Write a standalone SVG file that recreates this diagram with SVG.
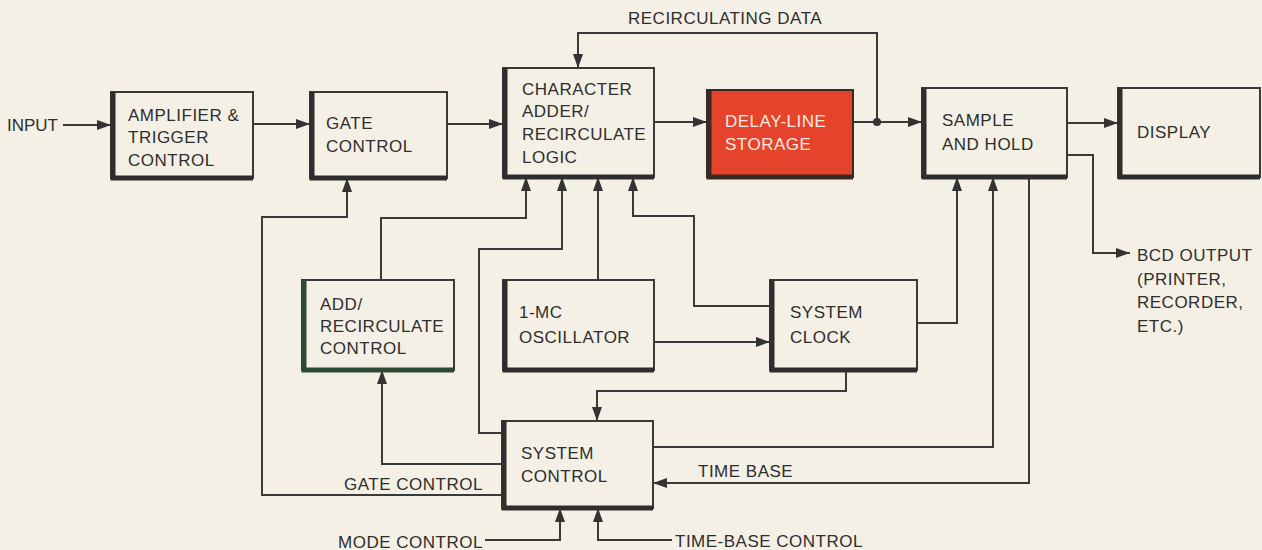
<svg xmlns="http://www.w3.org/2000/svg" width="1262" height="550" viewBox="0 0 1262 550">
<defs>
<marker id="a" markerUnits="userSpaceOnUse" markerWidth="14" markerHeight="10" refX="14" refY="5" orient="auto">
<path d="M0,0 L14,5 L0,10 z" fill="#333"/>
</marker>
<style>
.bx{fill:none;stroke:#3a3a3a;stroke-width:2}
.sh{fill:none;stroke:#2e2e2e;stroke-width:5}
.c{fill:none;stroke:#3a3a3a;stroke-width:2}
.ca{fill:none;stroke:#3a3a3a;stroke-width:2;marker-end:url(#a)}
text{font-family:"Liberation Sans",Arial,sans-serif;font-size:17px;fill:#2e2e2e;letter-spacing:0.5px}
.w{fill:#f8ece0}
</style>
</defs>
<rect width="1262" height="550" fill="#f4f0e5"/>

<g id="connectors">
<path class="ca" d="M63,125 H111"/>
<path class="ca" d="M253,124 H310"/>
<path class="ca" d="M447,124 H503"/>
<path class="ca" d="M654,122 H707"/>
<path class="ca" d="M853,122 H922"/>
<path class="ca" d="M877,122 V33 H578 V68"/>
<circle cx="877" cy="122" r="4" fill="#333"/>
<path class="ca" d="M1067,123 H1118"/>
<path class="ca" d="M1067,155 H1093 V253 H1130"/>
<path class="ca" d="M917,323 H957 V177"/>
<path class="ca" d="M653,447 H993 V177"/>
<path class="ca" d="M1029,177 V483 H653"/>
<path class="ca" d="M846,370 V391 H597 V421"/>
<path class="ca" d="M654,342 H770"/>
<path class="ca" d="M598,280 V177"/>
<path class="ca" d="M770,306 H694 V216 H633 V177"/>
<path class="ca" d="M381,280 V218 H526 V177"/>
<path class="ca" d="M502,495 H262 V217 H347 V178"/>
<path class="ca" d="M502,433 H479 V249 H562 V177"/>
<path class="ca" d="M502,464 H382 V370"/>
<path class="ca" d="M485,540 H560 V508"/>
<path class="ca" d="M672,540 H598 V508"/>
</g>

<g id="labels">
<text x="7" y="131" style="letter-spacing:0">INPUT</text>
<text x="628" y="24">RECIRCULATING DATA</text>
<text x="1137" y="261">BCD OUTPUT</text>
<text x="1137" y="285">(PRINTER,</text>
<text x="1137" y="308">RECORDER,</text>
<text x="1137" y="332">ETC.)</text>
<text x="698" y="477">TIME BASE</text>
<text x="344" y="490">GATE CONTROL</text>
<text x="338" y="548">MODE CONTROL</text>
<text x="675" y="547">TIME-BASE CONTROL</text>
</g>

<g id="amp">
<rect class="bx" x="111" y="92" width="142" height="86"/>
<path class="sh" d="M113,92 V178 H253"/>
<text x="128" y="121">AMPLIFIER &amp;</text>
<text x="128" y="143">TRIGGER</text>
<text x="128" y="166">CONTROL</text>
</g>

<g id="gate">
<rect class="bx" x="310" y="92" width="137" height="86"/>
<path class="sh" d="M312,92 V178 H447"/>
<text x="326" y="129">GATE</text>
<text x="326" y="152">CONTROL</text>
</g>

<g id="char">
<rect class="bx" x="503" y="68" width="151" height="109"/>
<path class="sh" d="M505,68 V177 H654"/>
<text x="522" y="95">CHARACTER</text>
<text x="522" y="117">ADDER/</text>
<text x="522" y="140">RECIRCULATE</text>
<text x="522" y="163">LOGIC</text>
</g>

<g id="delay">
<rect x="707" y="90" width="146" height="87" fill="#e5432b" stroke="#3a2a24" stroke-width="2"/>
<path d="M709,90 V177 H853" fill="none" stroke="#3a2a24" stroke-width="5"/>
<text class="w" x="725" y="127">DELAY-LINE</text>
<text class="w" x="725" y="150">STORAGE</text>
</g>

<g id="sample">
<rect class="bx" x="922" y="88" width="145" height="89"/>
<path class="sh" d="M924,88 V177 H1067"/>
<text x="942" y="126">SAMPLE</text>
<text x="942" y="150">AND HOLD</text>
</g>

<g id="display">
<rect class="bx" x="1118" y="88" width="142" height="89"/>
<path class="sh" d="M1120,88 V177 H1260"/>
<text x="1137" y="138">DISPLAY</text>
</g>

<g id="addrec">
<rect class="bx" x="302" y="280" width="152" height="90"/>
<path class="sh" d="M304,280 V370 H454" style="stroke:#2f4a33"/>
<text x="320" y="310">ADD/</text>
<text x="320" y="332">RECIRCULATE</text>
<text x="320" y="354">CONTROL</text>
</g>

<g id="osc">
<rect class="bx" x="503" y="280" width="151" height="90"/>
<path class="sh" d="M505,280 V370 H654"/>
<text x="519" y="318">1-MC</text>
<text x="519" y="343">OSCILLATOR</text>
</g>

<g id="clock">
<rect class="bx" x="770" y="280" width="147" height="90"/>
<path class="sh" d="M772,280 V370 H917"/>
<text x="790" y="318">SYSTEM</text>
<text x="790" y="343">CLOCK</text>
</g>

<g id="sysctl">
<rect class="bx" x="502" y="421" width="151" height="87"/>
<path class="sh" d="M504,421 V508 H653"/>
<text x="521" y="459">SYSTEM</text>
<text x="521" y="482">CONTROL</text>
</g>
</svg>
